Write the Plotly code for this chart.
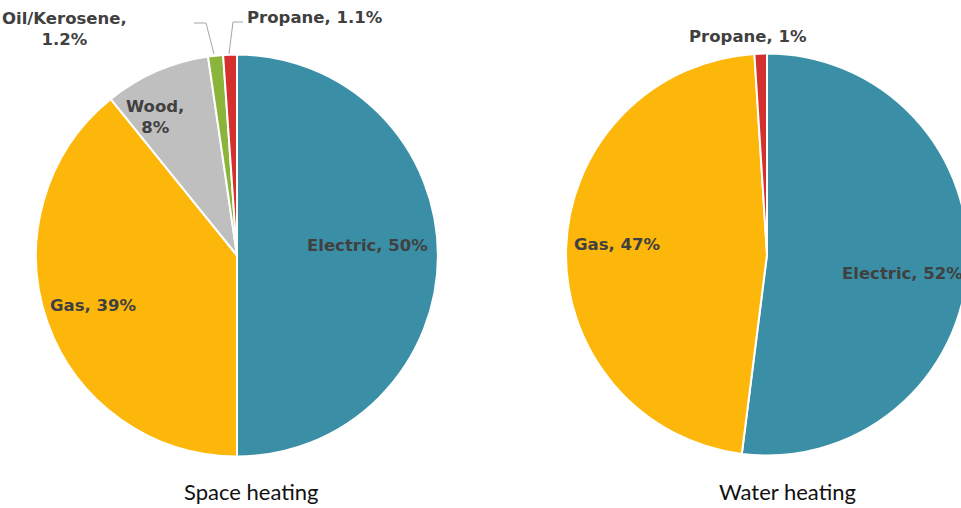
import plotly.graph_objects as go

W, H = 975, 508

# shares; printed labels are rounded
space_labels = ["Electric", "Gas", "Wood", "Oil/Kerosene", "Propane"]
space_values = [50, 39.2, 8.5, 1.2, 1.1]
space_pct = ["50%", "39%", "8%", "1.2%", "1.1%"]
space_colors = ["#3A8FA7", "#FDB70A", "#BFBFBF", "#8BB43A", "#D3302E"]

water_labels = ["Electric", "Gas", "Propane"]
water_values = [52, 47, 1]
water_pct = ["52%", "47%", "1%"]
water_colors = ["#3A8FA7", "#FDB70A", "#D3302E"]

titles = ["Space heating", "Water heating"]


def px(x, y):
    # pixel position -> paper coords
    return x / W, 1 - y / H


fig = go.Figure()
fig.add_trace(go.Pie(
    labels=space_labels, values=space_values, sort=False, direction="clockwise",
    marker=dict(colors=space_colors, line=dict(color="white", width=2)),
    textinfo="none", hoverinfo="label+value", showlegend=False,
    domain=dict(x=[36 / W, 438 / W], y=[1 - 457 / H, 1 - 54 / H]),
))
fig.add_trace(go.Pie(
    labels=water_labels, values=water_values, sort=False, direction="clockwise",
    marker=dict(colors=water_colors, line=dict(color="white", width=2)),
    textinfo="none", hoverinfo="label+value", showlegend=False,
    domain=dict(x=[566 / W, 968 / W], y=[1 - 456 / H, 1 - 53 / H]),
))

lab_font = dict(family="'DejaVu Sans', sans-serif", size=16.5, color="#404040")

def label(text, x, y):
    ax, ay = px(x, y)
    fig.add_annotation(text="<b>" + text + "</b>", x=ax, y=ay, xref="paper", yref="paper",
                       showarrow=False, font=lab_font, xanchor="center", yanchor="middle")

s = dict(zip(space_labels, space_pct))
w = dict(zip(water_labels, water_pct))
label(f"Electric, {s['Electric']}", 367, 245)
label(f"Gas, {s['Gas']}", 93, 305)
label(f"Wood,<br>{s['Wood']}", 155, 117)
label(f"Oil/Kerosene,<br>{s['Oil/Kerosene']}", 64, 29)
label(f"Propane, {s['Propane']}", 315, 17)
label(f"Propane, {w['Propane']}", 748, 37)
label(f"Gas, {w['Gas']}", 617, 244)
label(f"Electric, {w['Electric']}", 902, 273)

# leader lines for the small slices
for pts in ([(214, 54), (206, 23), (194, 23)], [(229, 54), (233, 22), (243, 22)]):
    path = "M " + " L ".join(f"{px(x, y)[0]},{px(x, y)[1]}" for x, y in pts)
    fig.add_shape(type="path", path=path, xref="paper", yref="paper",
                  line=dict(color="#A6A6A6", width=1))

for t, x in zip(titles, [251, 787]):
    ax, ay = px(x, 491)
    fig.add_annotation(text=t, x=ax, y=ay, xref="paper", yref="paper", showarrow=False,
                       font=dict(family="Lato, sans-serif", size=22, color="#111111"),
                       xanchor="center", yanchor="middle")

fig.update_layout(
    width=W, height=H,
    margin=dict(l=0, r=0, t=0, b=0),
    paper_bgcolor="white", plot_bgcolor="white",
)
fig.write_html("out.html", config={"displayModeBar": False},
               post_script="document.body.style.margin='0px';document.body.style.overflow='hidden';")
